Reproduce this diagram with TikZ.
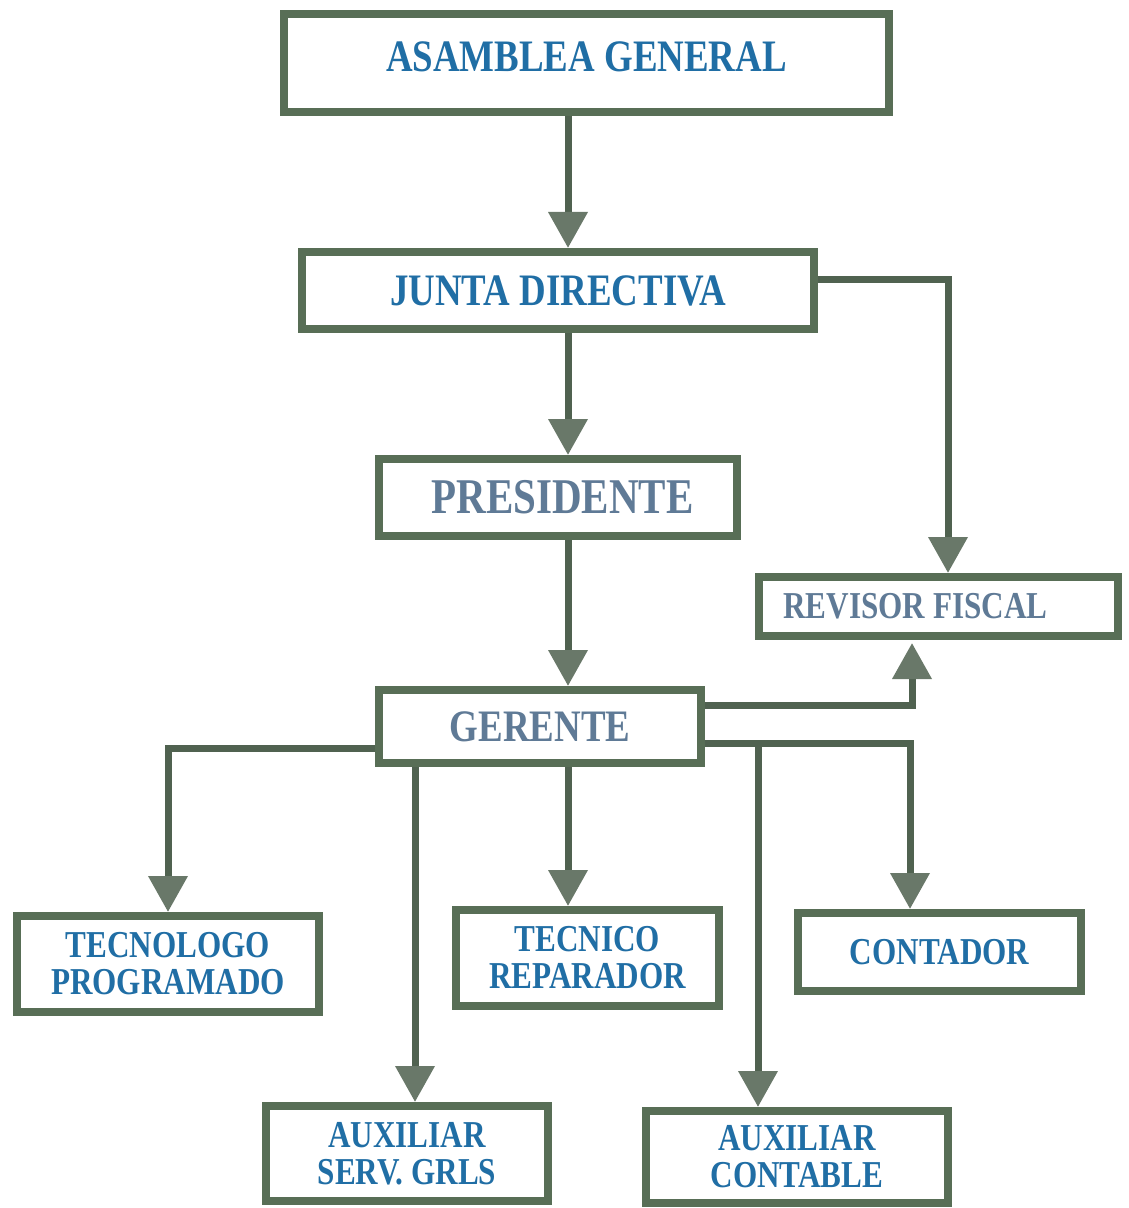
\documentclass[tikz,border=0pt]{standalone}
\usepackage{fontspec}
\newfontfamily\bx[FakeStretch=0.82]{Liberation Serif}
\usetikzlibrary{arrows.meta}
\definecolor{boxgreen}{RGB}{88,110,86}
\definecolor{linegreen}{RGB}{80,98,80}
\definecolor{tipgray}{RGB}{105,120,105}
\definecolor{txtblue}{RGB}{32,110,165}
\definecolor{txtgray}{RGB}{95,122,150}
\tikzset{
  orgbox/.style={draw=boxgreen, line width=4pt, fill=white, align=center, inner sep=0pt,
    font=\bx\bfseries\fontsize{19pt}{18.5pt}\selectfont, text=txtblue},
  bigtext/.style={font=\bx\bfseries\fontsize{22.5pt}{24pt}\selectfont},
  conn/.style={draw=linegreen, line width=3.5pt,
    -{Triangle[width=19pt,length=18pt,fill=tipgray,color=tipgray]}}
}
\begin{document}
\begin{tikzpicture}[x=0.5pt,y=-0.5pt]
\useasboundingbox (0,0) rectangle (1128,1208);
% boxes (sizes in pt = pixels/2)
\node[orgbox,bigtext,minimum width=302.5pt,minimum height=49pt] (asm) at (586.5,63) {\raisebox{6.5pt}{ASAMBLEA GENERAL}};
\node[orgbox,bigtext,minimum width=256pt,minimum height=38.5pt] (junta) at (558,290.5) {JUNTA DIRECTIVA};
\node[orgbox,font=\bx\bfseries\fontsize{25pt}{26pt}\selectfont,text=txtgray,minimum width=179pt,minimum height=38.5pt] (pres) at (558,497.5) {\kern4.5pt PRESIDENTE};
\node[orgbox,text=txtgray,minimum width=179.5pt,minimum height=29.5pt] (rev) at (938.5,606.5) {\kern-11.5pt REVISOR FISCAL\kern11.5pt};
\node[orgbox,bigtext,text=txtgray,minimum width=161pt,minimum height=36.5pt] (ger) at (540,726.5) {GERENTE};
\node[orgbox,minimum width=151pt,minimum height=48pt] (tec) at (168,964) {TECNOLOGO\\PROGRAMADO};
\node[orgbox,minimum width=131.5pt,minimum height=48pt] (tecn) at (587.5,958) {TECNICO\\REPARADOR};
\node[orgbox,minimum width=141.5pt,minimum height=39pt] (cont) at (939.5,952) {CONTADOR};
\node[orgbox,minimum width=141pt,minimum height=47.5pt] (auxs) at (407,1153.5) {AUXILIAR\\SERV. GRLS};
\node[orgbox,minimum width=151pt,minimum height=46pt] (auxc) at (797,1157) {AUXILIAR\\CONTABLE};
% reference positions
\coordinate (xMain) at (568,0);
\coordinate (xRevA) at (948,280);
\coordinate (xRevB) at (912,705);
\coordinate (xTec) at (168,748);
\coordinate (xAuxS) at (415,0);
\coordinate (xCont) at (910,743);
\coordinate (brC) at (758,743);
% connectors
\draw[conn] (asm.south -| xMain) -- (junta.north -| xMain);
\draw[conn] (junta.south -| xMain) -- (pres.north -| xMain);
\draw[conn] (junta.east |- xRevA) -- (xRevA) -- (rev.north -| xRevA);
\draw[conn] (pres.south -| xMain) -- (ger.north -| xMain);
\draw[conn] (ger.east |- xRevB) -- (xRevB) -- ([yshift=-1.5pt]rev.south -| xRevB);
\draw[conn] (ger.west |- xTec) -- (xTec) -- (tec.north -| xTec);
\draw[conn] (ger.south -| xAuxS) -- (auxs.north -| xAuxS);
\draw[conn] (ger.south -| xMain) -- (tecn.north -| xMain);
\draw[conn] (ger.east |- xCont) -- (xCont) -- (cont.north -| xCont);
\draw[conn] (brC) -- (auxc.north -| brC);
\end{tikzpicture}
\end{document}
